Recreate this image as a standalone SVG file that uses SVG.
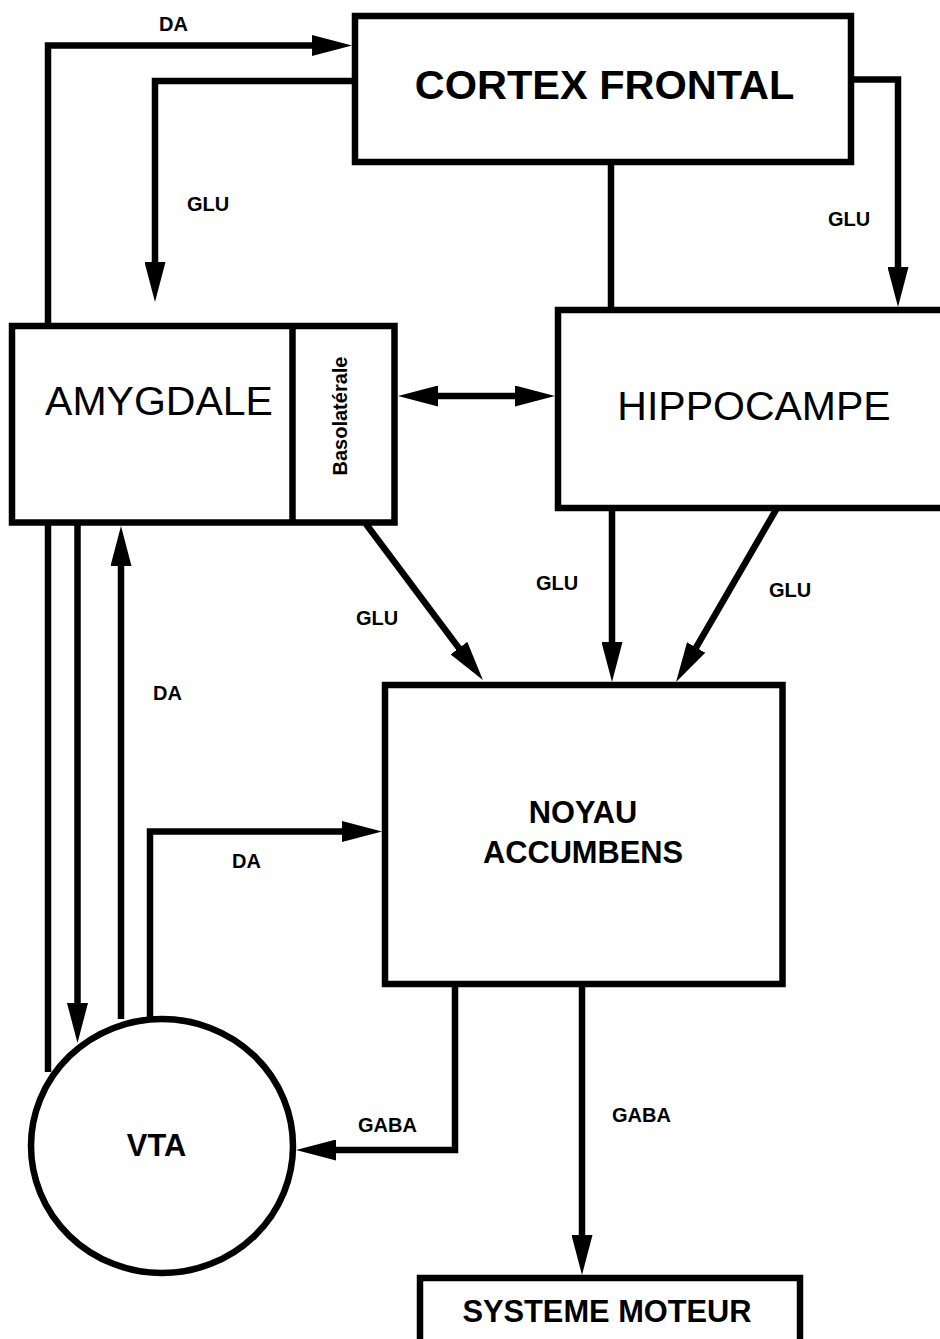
<svg xmlns="http://www.w3.org/2000/svg" width="940" height="1339" viewBox="0 0 940 1339">
<defs>
<style>
.box{fill:#fff;stroke:#000;stroke-width:6.5}
.ln{fill:none;stroke:#000;stroke-width:6.5;stroke-linejoin:miter;stroke-linecap:butt}
.lbl{font-family:"Liberation Sans",Arial,sans-serif;font-weight:bold;font-size:20px;fill:#000}
.big{font-family:"Liberation Sans",Arial,sans-serif;font-size:41px;fill:#000;text-anchor:middle}
.bold{font-weight:bold;font-size:41.5px}
.mid{font-family:"Liberation Sans",Arial,sans-serif;font-weight:bold;font-size:30.8px;fill:#000;text-anchor:middle}
</style>
<marker id="ah" viewBox="0 0 40 21" refX="10" refY="10.5" markerWidth="40" markerHeight="21" markerUnits="userSpaceOnUse" orient="auto-start-reverse">
<path d="M0,0 L40,10.5 L0,21 z" fill="#000"/>
</marker>
</defs>
<rect width="940" height="1339" fill="#fff"/>

<g id="connectors">
<path class="ln" d="M48,326 V45.5 H322" marker-end="url(#ah)"/>
<path class="ln" d="M48,522 V1072"/>
<path class="ln" d="M355,81 H155 V272" marker-end="url(#ah)"/>
<path class="ln" d="M611,162 V310"/>
<path class="ln" d="M851,79.5 H898 V277" marker-end="url(#ah)"/>
<path class="ln" d="M428,396 H525" marker-start="url(#ah)" marker-end="url(#ah)"/>
<path class="ln" d="M366,524 L464.9,656.1" marker-end="url(#ah)"/>
<path class="ln" d="M612,508 V652" marker-end="url(#ah)"/>
<path class="ln" d="M777,508 L691.1,656.1" marker-end="url(#ah)"/>
<path class="ln" d="M121,1019 V556" marker-end="url(#ah)"/>
<path class="ln" d="M77.5,522 V1013" marker-end="url(#ah)"/>
<path class="ln" d="M150,1019 V831.5 H352" marker-end="url(#ah)"/>
<path class="ln" d="M455,987 V1150 H326" marker-end="url(#ah)"/>
<path class="ln" d="M582,987 V1245" marker-end="url(#ah)"/>
</g>

<g id="labels">
<text class="lbl" x="159" y="31">DA</text>
<text class="lbl" x="187" y="211">GLU</text>
<text class="lbl" x="828" y="226">GLU</text>
<text class="lbl" x="356" y="625">GLU</text>
<text class="lbl" x="536" y="590">GLU</text>
<text class="lbl" x="769" y="597">GLU</text>
<text class="lbl" x="153" y="700">DA</text>
<text class="lbl" x="232" y="868">DA</text>
<text class="lbl" x="358" y="1132">GABA</text>
<text class="lbl" x="612" y="1122">GABA</text>
</g>

<g id="cortex-frontal">
<rect class="box" x="355" y="16" width="496" height="146"/>
<text class="big bold" x="604.5" y="99">CORTEX FRONTAL</text>
</g>

<g id="amygdale">
<rect class="box" x="12" y="326" width="382.5" height="196.5"/>
<line class="ln" x1="292.5" y1="326" x2="292.5" y2="522.5"/>
<text class="big" x="159" y="415">AMYGDALE</text>
<text class="lbl" text-anchor="middle" transform="translate(347,416) rotate(-90)">Basolatérale</text>
</g>

<g id="hippocampe">
<rect class="box" x="558" y="310" width="395" height="198"/>
<text class="big" x="754" y="420">HIPPOCAMPE</text>
</g>

<g id="noyau-accumbens">
<rect class="box" x="385" y="685" width="397.5" height="299"/>
<text class="mid" x="583" y="823">NOYAU</text>
<text class="mid" x="583" y="863">ACCUMBENS</text>
</g>

<g id="vta">
<ellipse class="box" cx="162" cy="1146" rx="131" ry="127"/>
<text class="mid" x="156.5" y="1156">VTA</text>
</g>

<g id="systeme-moteur">
<rect class="box" x="420" y="1278" width="380" height="80"/>
<text class="mid" x="607" y="1322">SYSTEME MOTEUR</text>
</g>
</svg>
